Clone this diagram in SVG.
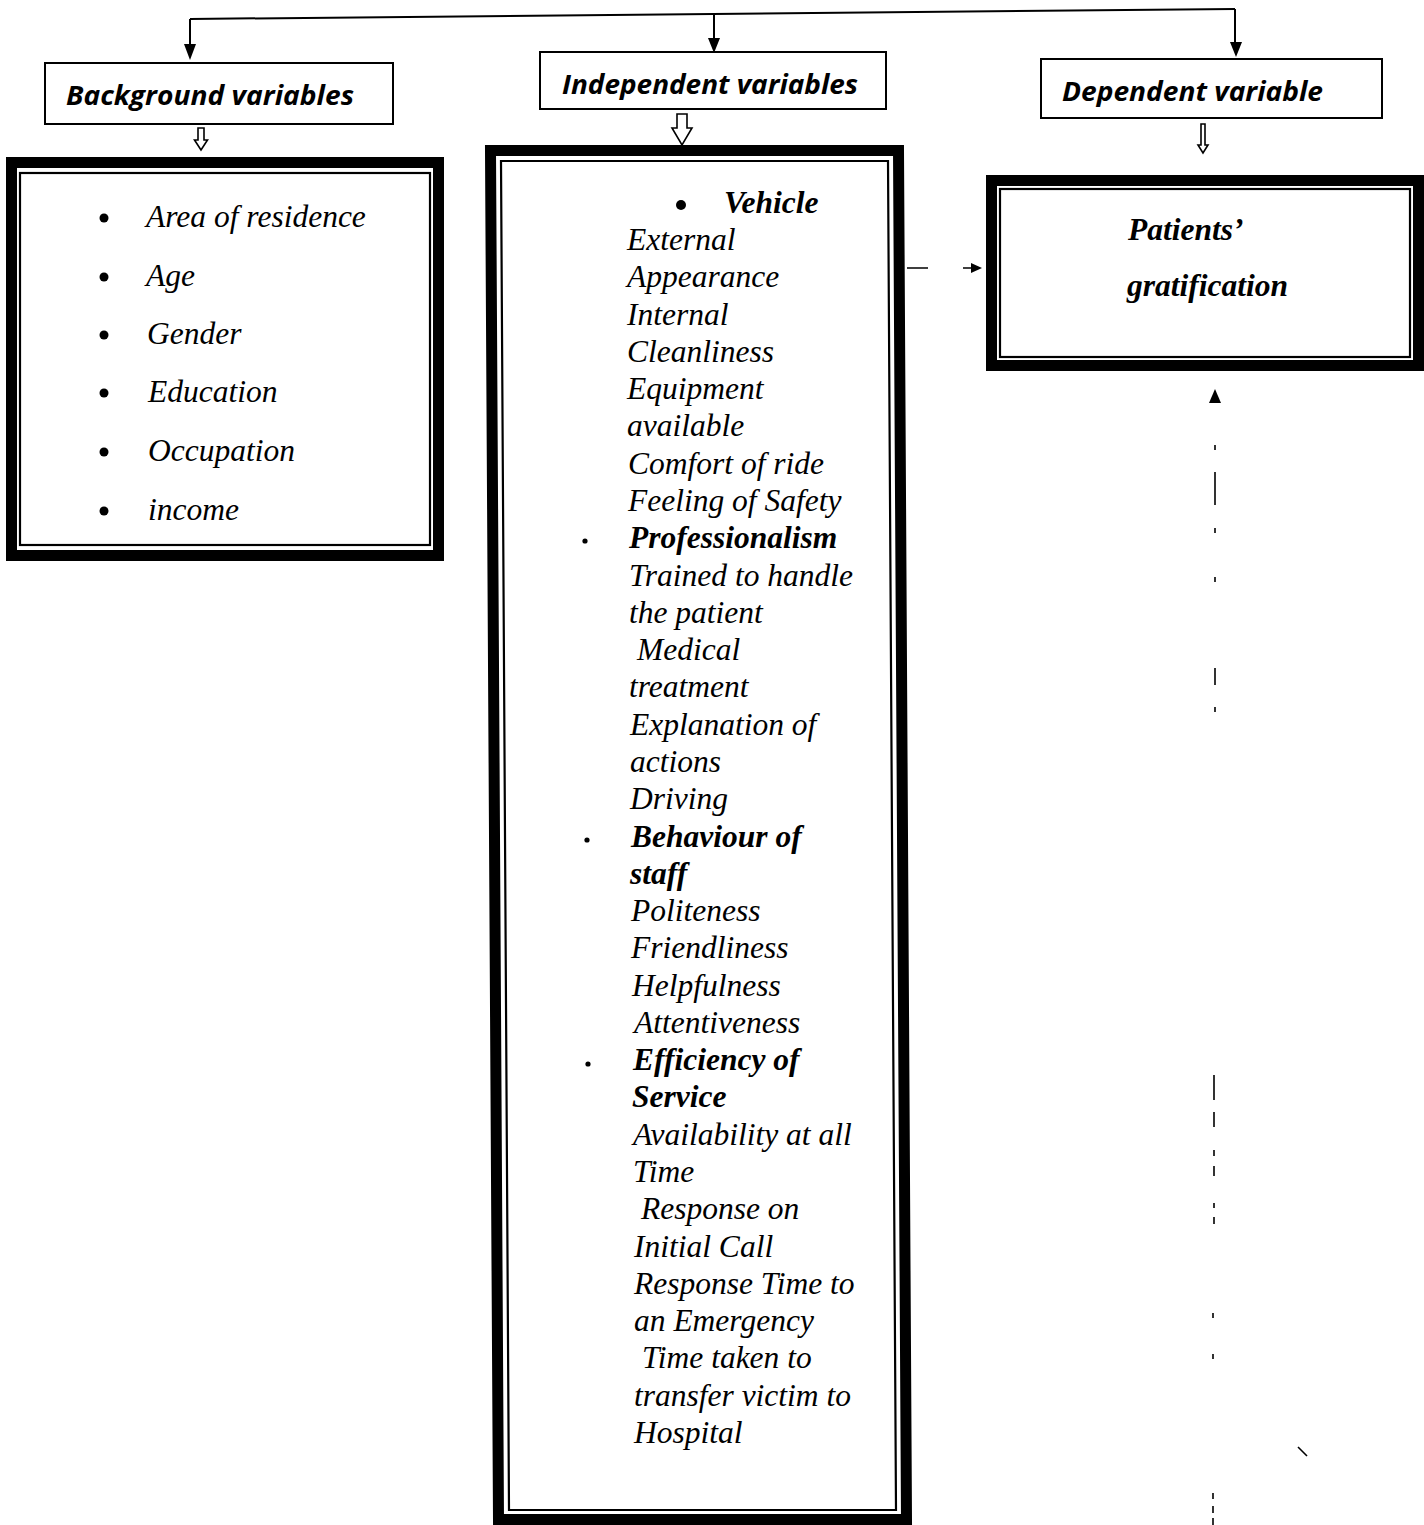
<svg xmlns="http://www.w3.org/2000/svg" width="1424" height="1525" viewBox="0 0 1424 1525">
<style>
.bg{fill:#fff}
.hbox{fill:#fff;stroke:#000;stroke-width:2}
.thick{fill:none;stroke:#000;stroke-width:11}
.thin{fill:none;stroke:#000;stroke-width:2.2}
.ln{fill:none;stroke:#000;stroke-width:2}
.dash{fill:none;stroke:#000;stroke-width:1.6}
.hollow{fill:#fff;stroke:#000;stroke-width:1.6;stroke-linejoin:miter}
.head{fill:#000}
.htxt{font-family:"Open Sans","Liberation Sans",sans-serif;font-weight:bold;font-style:italic;font-size:26px;fill:#000}
.t{font-family:"Liberation Serif","Times New Roman",serif;font-style:italic;font-size:31.5px;fill:#000}
.b{font-weight:bold}
</style>
<rect class="bg" x="0" y="0" width="1424" height="1525"/>

<g id="connectors">
  <path class="ln" d="M190,19 L1235,9"/>
  <path class="ln" d="M190,19 L190,46"/>
  <polygon class="head" points="190,60 184,44 196,44"/>
  <path class="ln" d="M714,14 L714,40"/>
  <polygon class="head" points="714,53 708,38 720,38"/>
  <path class="ln" d="M1235,9 L1235,44"/>
  <polygon class="head" points="1236,57 1230,42 1242,42"/>
  <path class="hollow" d="M198,128 L204,128 L204,140 L207.5,140 L201,150 L194.5,140 L198,140 Z"/>
  <path class="hollow" d="M677,114 L687,114 L687,128 L692,128 L682,145 L672,128 L677,128 Z"/>
  <path class="hollow" d="M1201,124 L1205,124 L1205,145 L1208,145 L1203,153 L1198,145 L1201,145 Z"/>
  <path class="dash" d="M907,268 L928,268 M963,268 L974,268"/>
  <polygon class="head" points="982,268 971,263 971,273"/>
  <polygon class="head" points="1215,389 1209,403 1221,403"/>
  <path class="dash" d="M1215,445 L1215,450 M1215,472 L1215,505 M1215,528 L1215,533 M1215,577 L1215,582 M1215,668 L1215,685 M1215,707 L1215,712 M1214,1075 L1214,1100 M1214,1112 L1214,1127 M1214,1150 L1214,1156 M1214,1166 L1214,1176 M1214,1203 L1214,1208 M1214,1217 L1214,1224 M1213,1313 L1213,1318 M1213,1354 L1213,1359 M1213,1493 L1213,1499 M1213,1506 L1213,1513 M1213,1518 L1213,1525"/>
  <path class="dash" d="M1298,1447 L1307,1456"/>
</g>

<g id="background-header">
  <rect class="hbox" x="45" y="63" width="348" height="61"/>
  <text class="htxt" x="66" y="105" textLength="288" lengthAdjust="spacingAndGlyphs">Background variables</text>
</g>

<g id="independent-header">
  <rect class="hbox" x="540" y="52" width="346" height="57"/>
  <text class="htxt" x="562" y="94" textLength="296" lengthAdjust="spacingAndGlyphs">Independent variables</text>
</g>

<g id="dependent-header">
  <rect class="hbox" x="1041" y="59" width="341" height="59"/>
  <text class="htxt" x="1062" y="101" textLength="261" lengthAdjust="spacingAndGlyphs">Dependent variable</text>
</g>

<g id="background-list">
  <rect class="thick" x="11.5" y="162.5" width="427" height="393"/>
  <rect class="thin" x="20" y="173" width="410" height="372"/>
  <circle cx="104" cy="218" r="4.5"/>
  <circle cx="104" cy="277" r="4.5"/>
  <circle cx="104" cy="335" r="4.5"/>
  <circle cx="104" cy="393" r="4.5"/>
  <circle cx="104" cy="452" r="4.5"/>
  <circle cx="104" cy="511" r="4.5"/>
  <text class="t" x="146" y="227">Area of residence</text>
  <text class="t" x="146" y="286">Age</text>
  <text class="t" x="147" y="344">Gender</text>
  <text class="t" x="148" y="402">Education</text>
  <text class="t" x="148" y="461">Occupation</text>
  <text class="t" x="148" y="520">income</text>
</g>

<g id="independent-list">
  <path class="thick" d="M490.5,150.5 L898.5,150.5 L906.5,1519.5 L498.5,1519.5 Z"/>
  <path class="thin" d="M501,161 L888,161 L896,1510 L509,1510 Z"/>
  <circle cx="681" cy="205" r="5"/>
  <circle cx="585" cy="541" r="2.6"/>
  <circle cx="587" cy="840" r="2.6"/>
  <circle cx="588" cy="1064" r="2.6"/>
  <text class="t b" x="724" y="213">Vehicle</text>
  <text class="t" x="627" y="250">External</text>
  <text class="t" x="627" y="287.3">Appearance</text>
  <text class="t" x="627" y="324.6">Internal</text>
  <text class="t" x="627" y="361.8">Cleanliness</text>
  <text class="t" x="627" y="399.1">Equipment</text>
  <text class="t" x="627" y="436.4">available</text>
  <text class="t" x="628" y="473.7">Comfort of ride</text>
  <text class="t" x="628" y="511">Feeling of Safety</text>
  <text class="t b" x="629" y="548.2">Professionalism</text>
  <text class="t" x="629" y="585.5">Trained to handle</text>
  <text class="t" x="629" y="622.8">the patient</text>
  <text class="t" x="637" y="660.1">Medical</text>
  <text class="t" x="629" y="697.4">treatment</text>
  <text class="t" x="630" y="734.6">Explanation of</text>
  <text class="t" x="630" y="771.9">actions</text>
  <text class="t" x="630" y="809.2">Driving</text>
  <text class="t b" x="631" y="846.5">Behaviour of</text>
  <text class="t b" x="630" y="883.8">staff</text>
  <text class="t" x="631" y="921">Politeness</text>
  <text class="t" x="631" y="958.3">Friendliness</text>
  <text class="t" x="632" y="995.6">Helpfulness</text>
  <text class="t" x="634" y="1032.9">Attentiveness</text>
  <text class="t b" x="633" y="1070.2">Efficiency of</text>
  <text class="t b" x="632" y="1107.4">Service</text>
  <text class="t" x="633" y="1144.7">Availability at all</text>
  <text class="t" x="633" y="1182">Time</text>
  <text class="t" x="641" y="1219.3">Response on</text>
  <text class="t" x="634" y="1256.6">Initial Call</text>
  <text class="t" x="634" y="1293.8">Response Time to</text>
  <text class="t" x="634" y="1331.1">an Emergency</text>
  <text class="t" x="642" y="1368.4">Time taken to</text>
  <text class="t" x="634" y="1405.7">transfer victim to</text>
  <text class="t" x="634" y="1443">Hospital</text>
</g>

<g id="dependent-box">
  <rect class="thick" x="991.5" y="180.5" width="427" height="185"/>
  <rect class="thin" x="1000" y="189" width="410" height="168"/>
  <text class="t b" x="1128" y="240">Patients’</text>
  <text class="t b" x="1127" y="296">gratification</text>
</g>
</svg>
